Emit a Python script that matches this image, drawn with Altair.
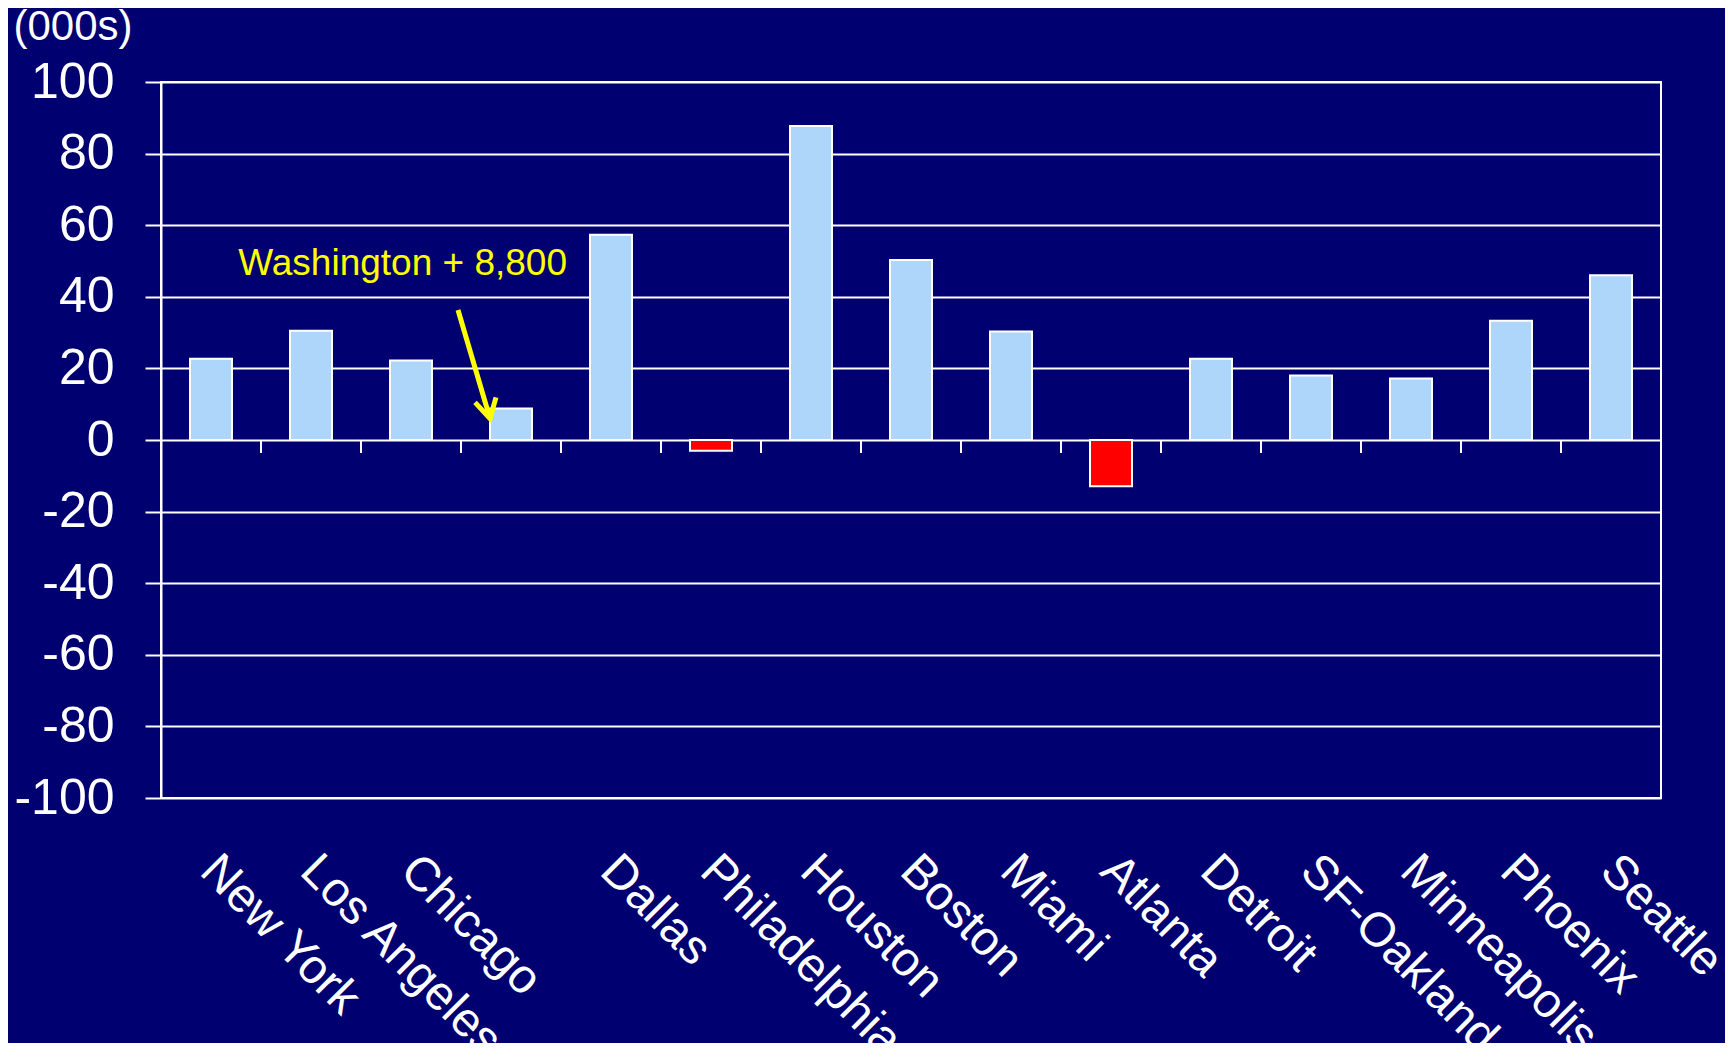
import altair as alt
import pandas as pd

# ---- data ----
cities = ["New York", "Los Angeles", "Chicago", "Washington", "Dallas", "Philadelphia",
          "Houston", "Boston", "Miami", "Atlanta", "Detroit", "SF-Oakland",
          "Minneapolis", "Phoenix", "Seattle"]
values = [22.7, 30.5, 22.2, 8.8, 57.3, -3.0, 87.7, 50.3, 30.3, -12.9, 22.7, 18.0, 17.2, 33.3, 46.0]
y_ticks = [-100, -80, -60, -40, -20, 0, 20, 40, 60, 80, 100]
y_title = "(000s)"
annotation_text = ["Washington + 8,800"]
annotation_x = [4.06]   # in category-band units
annotation_y = [46.1]
arrow_shaft_x = [2.97, 3.29]
arrow_shaft_y = [36.3, 6.0]
arrow_head_x = [3.14, 3.29, 3.35]
arrow_head_y = [10.5, 6.0, 11.9]
tick_len = 3.6  # length of the small category ticks below zero, in y units

FONT = "Liberation Sans"
BG = "#000070"
BAR_BLUE = "#AED6FA"
BAR_RED = "#FF0000"
YELLOW = "#FFFF00"

df = pd.DataFrame({"city": cities, "value": values})
df["sign"] = ["pos" if v >= 0 else "neg" for v in values]
ticks_df = pd.DataFrame({"city": cities[1:]})
ticks_df["value"] = 0.0
ticks_df["value2"] = -tick_len
ann_df = pd.DataFrame({"x": annotation_x, "value": annotation_y, "text": annotation_text})
shaft_df = pd.DataFrame({"x": arrow_shaft_x, "value": arrow_shaft_y, "o": list(range(len(arrow_shaft_x)))})
head_df = pd.DataFrame({"x": arrow_head_x, "value": arrow_head_y, "o": list(range(len(arrow_head_x)))})

xscale = alt.Scale(domain=cities, paddingInner=0, paddingOuter=0)
yscale = alt.Scale(domain=[-100, 100], nice=False)
qx = alt.Scale(domain=[0, len(cities)], nice=False, zero=False)

y_axis = alt.Axis(values=y_ticks, labelFont=FONT, labelFontSize=50, labelColor="white",
                  labelExpr="toString(datum.value)",
                  labelPadding=31, tickColor="white", tickSize=16, tickWidth=2,
                  domainColor="white", domainWidth=2, grid=True, gridColor="white",
                  gridWidth=2, gridOpacity=1, title=y_title, titleAngle=0,
                  titleFont=FONT, titleFontSize=42, titleFontWeight="normal",
                  titleColor="white", titleAlign="left", titleBaseline="alphabetic",
                  titleX=-148, titleY=-43)

def yenc():
    return alt.Y("value:Q", scale=yscale, axis=y_axis)

bars = alt.Chart(df).mark_bar(
    width=alt.RelativeBandSize(0.42), stroke="white", strokeWidth=2
).encode(
    x=alt.X("city:N", sort=cities, scale=xscale, title=None,
            axis=alt.Axis(labelAngle=45, labelAlign="left", labelBaseline="top",
                          labelFont=FONT, labelFontSize=48, labelColor="white",
                          labelPadding=48, labelOffset=14, labelLimit=600, labelOverlap=False,
                          ticks=False, domain=False, grid=False,
                          labelExpr="datum.value == 'Washington' ? '' : datum.value")),
    y=yenc(),
    color=alt.Color("sign:N", scale=alt.Scale(domain=["pos", "neg"], range=[BAR_BLUE, BAR_RED]),
                    legend=None),
)

zero_ticks = alt.Chart(ticks_df).mark_rule(color="white", strokeWidth=2).encode(
    x=alt.X("city:N", sort=cities, scale=xscale, bandPosition=0, axis=None),
    y=yenc(),
    y2="value2:Q",
)

ann_text = alt.Chart(ann_df).mark_text(
    align="right", baseline="alphabetic", font=FONT, fontSize=37, color=YELLOW
).encode(
    x=alt.X("x:Q", scale=qx, axis=None),
    y=yenc(),
    text="text:N",
)

shaft = alt.Chart(shaft_df).mark_line(color=YELLOW, strokeWidth=5).encode(
    x=alt.X("x:Q", scale=qx, axis=None),
    y=yenc(),
    order="o:Q",
)

head = alt.Chart(head_df).mark_line(color=YELLOW, strokeWidth=5, strokeJoin="miter").encode(
    x=alt.X("x:Q", scale=qx, axis=None),
    y=yenc(),
    order="o:Q",
)

chart = alt.layer(bars, zero_ticks, ann_text, shaft, head).resolve_scale(
    x="independent"
).properties(
    width=1500, height=716,
    padding={"left": 153, "top": 74, "right": 64, "bottom": 245},
    autosize=alt.AutoSizeParams(type="none"),
    background=BG,
).configure_view(stroke="white", strokeWidth=2)

chart.save("out.html", embed_options={"renderer": "svg", "actions": False})
